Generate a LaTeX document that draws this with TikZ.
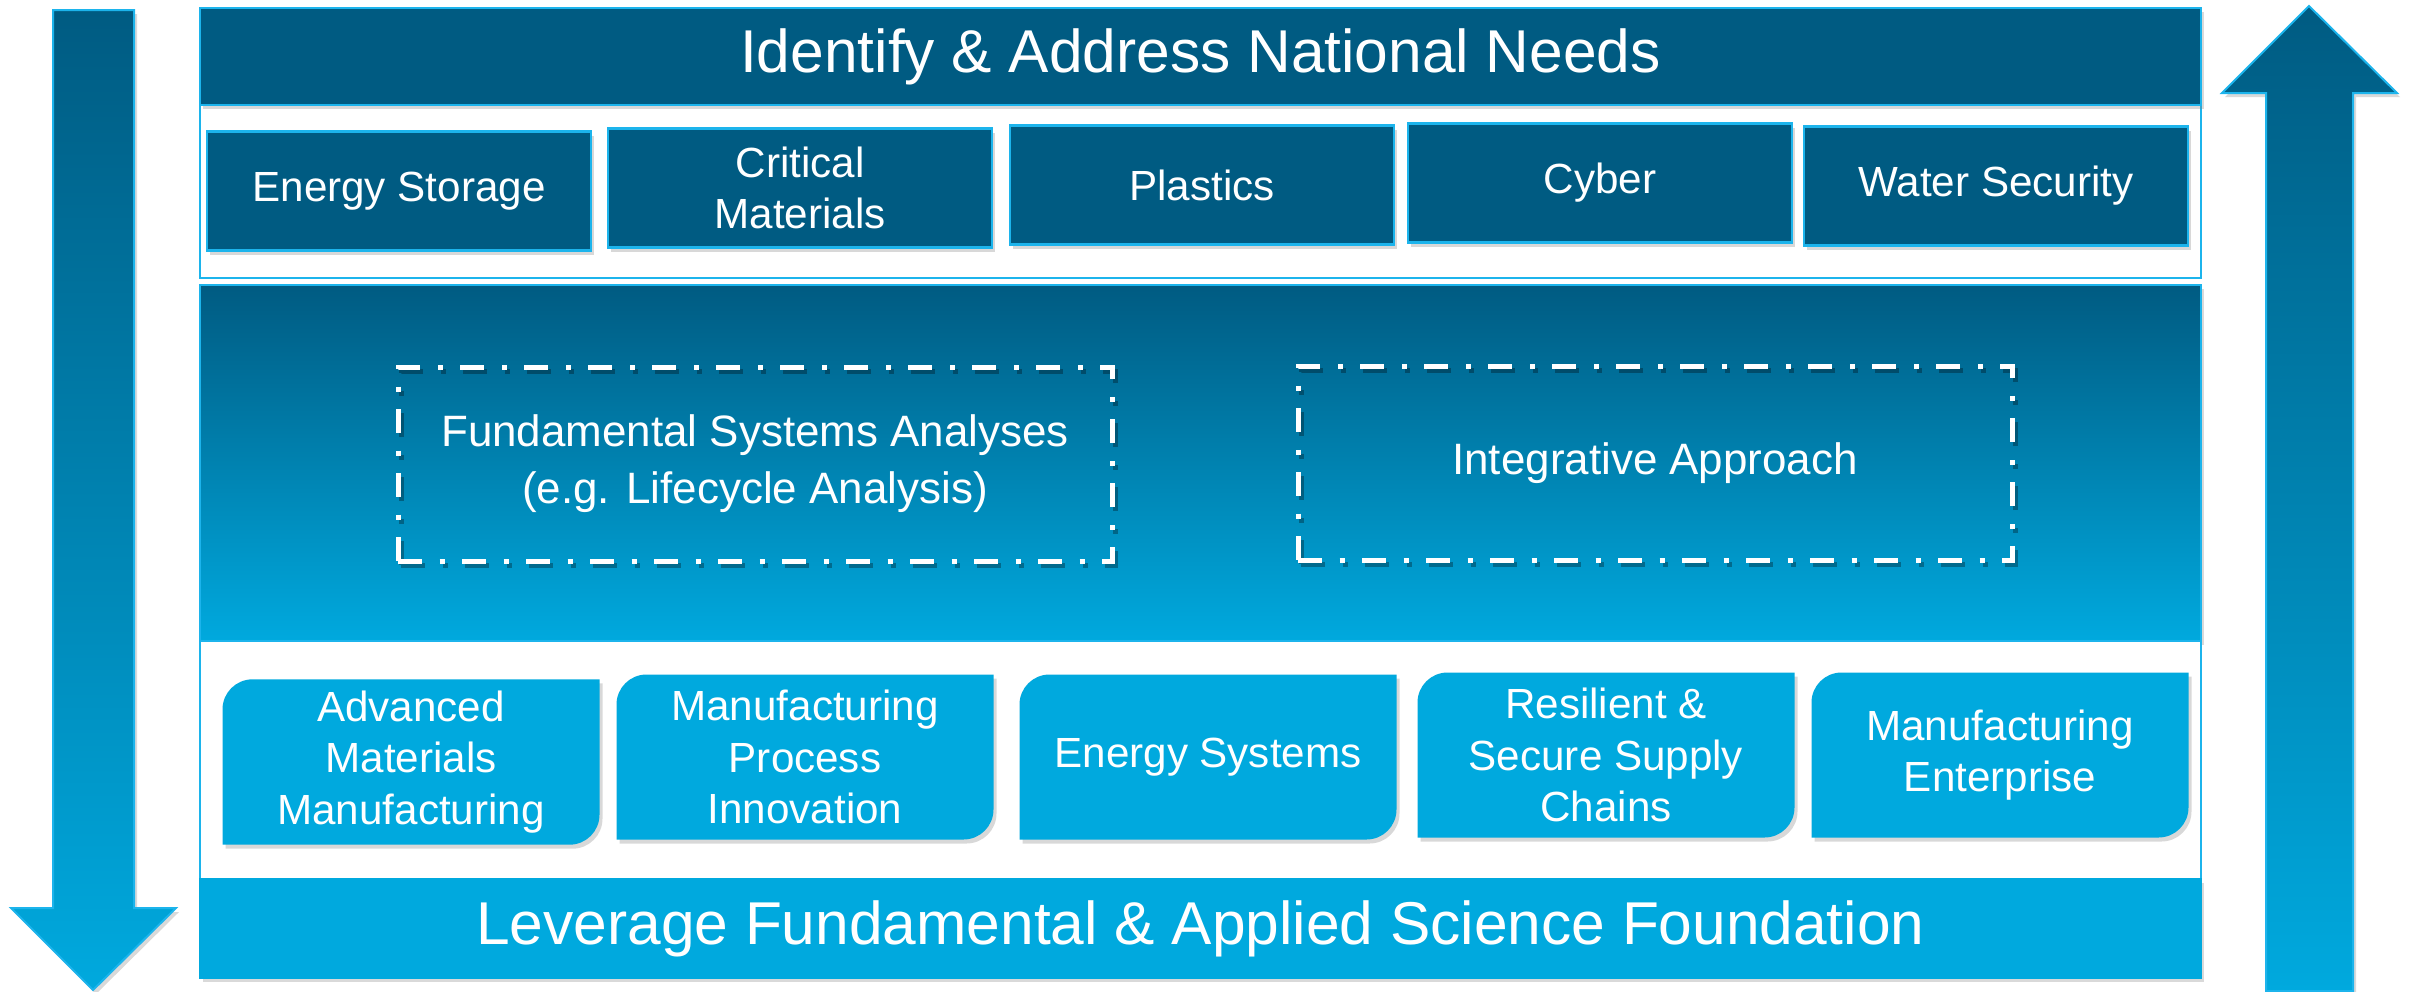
\documentclass[tikz,border=0pt]{standalone}
\usepackage{fontspec}
\setmainfont{Liberation Sans}
\usepackage{tikz}
\usetikzlibrary{backgrounds,shadows}

\definecolor{deepblue}{RGB}{0,91,130}
\definecolor{skyblue}{RGB}{0,169,222}
\definecolor{edgeblue}{RGB}{28,180,236}

\begin{document}
\begin{tikzpicture}[
        x=0.1mm, y=-0.1mm,
        softshadow/.style = {drop shadow={opacity=0.3, shadow xshift=0.3mm, shadow yshift=-0.4mm}},
        banner/.style = {rectangle, minimum width=200.1mm, inner sep=0pt, outer sep=0pt, text=white,
                         font=\fontsize{17.2pt}{20pt}\selectfont, line width=0.2mm, softshadow},
        needbox/.style = {rectangle, fill=deepblue, draw=edgeblue, line width=0.25mm, text=white,
                          minimum width=38.4mm, minimum height=11.9mm, align=center,
                          font=\fontsize{12pt}{14.6pt}\selectfont, softshadow},
        studybox/.style = {rectangle, draw=white, line width=0.5mm,
                           dash pattern=on 2.4mm off 1.75mm on 0.5mm off 1.75mm,
                           preaction={draw=black, opacity=0.3, transform canvas={xshift=0.3mm, yshift=-0.4mm}},
                           minimum width=71.4mm, minimum height=19.4mm, text=white, align=center,
                           font=\fontsize{12.5pt}{16.2pt}\selectfont},
        leafbox/.style = {rectangle, minimum width=37.7mm, minimum height=16.5mm, outer sep=0pt,
                          text=white, align=center, font=\fontsize{12pt}{14.6pt}\selectfont},
        leaffill/.style = {fill=skyblue, softshadow},
        flowarrow/.style = {draw=edgeblue, line width=0.2mm, softshadow}
    ]
    \useasboundingbox (0,0) rectangle (2410,991);

    % panels behind everything
    \begin{scope}[on background layer]
        \draw[edgeblue, line width=0.2mm, fill=white] (200,105) rectangle (2201,278);
        \path[draw=edgeblue, line width=0.2mm, top color=deepblue, bottom color=skyblue, softshadow]
            (200,285) rectangle (2201,641);
        \draw[edgeblue, line width=0.2mm, fill=white] (200,641) rectangle (2201,879);
    \end{scope}

    % big arrows on both sides
    \path[flowarrow, top color=deepblue, bottom color=skyblue]
        (53,10) -- (134,10) -- (134,908) -- (176,908) -- (93,990) -- (11,908) -- (53,908) -- cycle;
    \path[flowarrow, top color=deepblue, bottom color=skyblue]
        (2266,991) -- (2266,93) -- (2222,93) -- (2309,6) -- (2397,93) -- (2353,93) -- (2353,991) -- cycle;

    % top and bottom banners
    \node[banner, fill=deepblue, draw=edgeblue, minimum height=9.7mm] (needs) at (1200.5,56.5)
        {Identify \& Address National Needs};
    \node[banner, fill=skyblue, draw=skyblue, minimum height=9.9mm] (science) at (1200.5,928.5)
        {Leverage Fundamental \& Applied Science Foundation};

    % national needs
    \node[needbox] (storage) at (399,191) {Energy Storage};
    \node[needbox] (critical) at (800,188) {Critical\\Materials};
    \node[needbox] (plastics) at (1202,185) {Plastics};
    \node[needbox] (cyber) at (1600,183) {Cyber};
    \node[needbox] (water) at (1996,186) {Water Security};

    % analysis and approach
    \node[studybox] (systems) at (755,464) {Fundamental Systems Analyses\\(e.g. Lifecycle Analysis)};
    \node[studybox] (integrative) at (1655,463) {Integrative Approach};

    % focus areas
    \node[leafbox] (amm) at (411,762) {Advanced\\Materials\\Manufacturing};
    \node[leafbox] (process) at (805,757) {Manufacturing\\Process\\Innovation};
    \node[leafbox] (energysys) at (1208,757) {Energy Systems};
    \node[leafbox] (supply) at (1606,755) {Resilient \&\\Secure Supply\\Chains};
    \node[leafbox] (enterprise) at (2000,755) {Manufacturing\\Enterprise};

    % leaf shaped fills under the focus areas
    \begin{scope}[on background layer]
        \foreach \b in {amm,process,energysys,supply,enterprise}
            \fill[leaffill] (\b.south west) -- ([yshift=-3mm]\b.north west)
                arc[start angle=180, end angle=90, radius=3mm] -- (\b.north east)
                -- ([yshift=3mm]\b.south east)
                arc[start angle=0, end angle=-90, radius=3mm] -- cycle;
    \end{scope}

\end{tikzpicture}
\end{document}
